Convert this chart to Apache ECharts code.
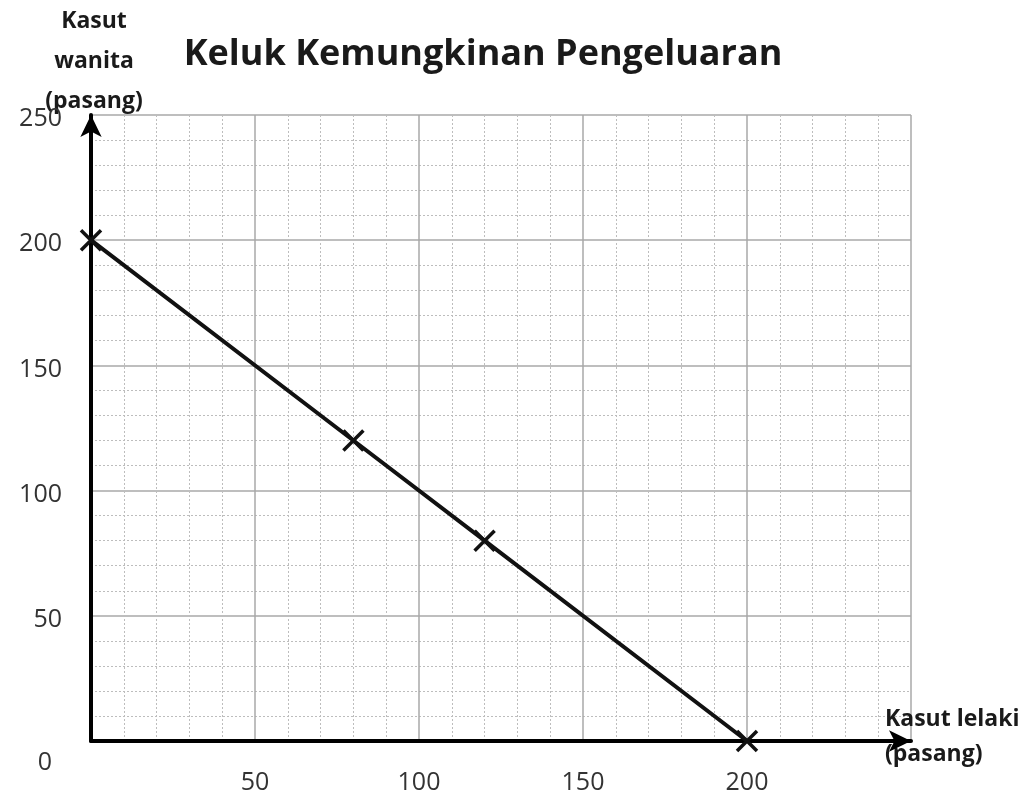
<!DOCTYPE html>
<html>
<head>
<meta charset="utf-8">
<script src="https://cdn.jsdelivr.net/npm/echarts@6/dist/echarts.min.js"></script>
<style>
  html, body { margin: 0; padding: 0; background: #fff; }
  #myChart { width: 1030px; height: 799px; }
</style>
</head>
<body>
<div id="myChart"></div>
<script>
// data
const kasutLelaki = [0, 80, 120, 200]
const kasutWanita = [200, 120, 80, 0]
const axisMax = 250
const majorStep = 50

const font = '"Open Sans", "Noto Sans", sans-serif'

const myChart = echarts.init(document.getElementById('myChart'))

const nameStyle = { fontFamily: font, fontSize: 23, fontWeight: 'bold', color: '#1a1a1a' }

const option = {
  animation: false,
  title: {
    text: 'Keluk Kemungkinan Pengeluaran',
    left: 478,
    top: 32,
    textAlign: 'center',
    textStyle: { fontFamily: font, fontSize: 36, fontWeight: 'bold', color: '#1a1a1a' }
  },
  grid: { left: 91, right: 119, top: 115, bottom: 58, outerBoundsMode: 'none', containLabel: false },
  xAxis: {
    type: 'value',
    min: 0,
    max: axisMax,
    interval: majorStep,
    // trailing small line lifts the two-line name a little
    name: '{n|Kasut lelaki}\n{n|(pasang)}\n{s| }',
    nameLocation: 'end',
    nameGap: -26,
    nameMoveOverlap: false,
    nameTextStyle: {
      ...nameStyle,
      align: 'left',
      rich: {
        n: { ...nameStyle, lineHeight: 35 },
        s: { fontSize: 1, lineHeight: 8 }
      }
    },
    axisLine: {
      show: true,
      symbol: ['none', 'arrow'],
      symbolSize: [16, 22],
      lineStyle: { color: '#000', width: 4 }
    },
    axisTick: { show: false },
    axisLabel: {
      margin: 29,
      fontFamily: font,
      fontSize: 25,
      color: '#333',
      formatter: (v) => (v === 0 || v === axisMax ? '' : String(v))
    },
    splitLine: { show: true, lineStyle: { color: '#a8a8a8', width: 1.5 } },
    minorTick: { show: false, splitNumber: 5 },
    minorSplitLine: { show: true, lineStyle: { color: '#bdbdbd', width: 1, type: [2, 2] } }
  },
  yAxis: {
    type: 'value',
    min: 0,
    max: axisMax,
    interval: majorStep,
    name: 'Kasut\nwanita\n(pasang)',
    nameLocation: 'end',
    nameGap: -6,
    nameMoveOverlap: false,
    nameTextStyle: {
      ...nameStyle,
      lineHeight: 40, align: 'center', padding: [0, 0, 0, 6]
    },
    axisLine: {
      show: true,
      symbol: ['none', 'arrow'],
      symbolSize: [16, 22],
      lineStyle: { color: '#000', width: 4 }
    },
    axisTick: { show: false },
    axisLabel: {
      margin: 29,
      fontFamily: font,
      fontSize: 25,
      color: '#333',
      padding: [8, 0, 0, 0],
      formatter: (v) => (v === 0 ? '{o|0}' : String(v)),
      rich: {
        o: { fontFamily: font, fontSize: 25, color: '#333', padding: [36, 10, 0, 0] }
      }
    },
    splitLine: { show: true, lineStyle: { color: '#a8a8a8', width: 1.5 } },
    minorTick: { show: false, splitNumber: 5 },
    minorSplitLine: { show: true, lineStyle: { color: '#bdbdbd', width: 1, type: [2, 2] } }
  },
  series: [{
    type: 'line',
    data: kasutLelaki.map((x, i) => [x, kasutWanita[i]]),
    clip: false,
    z: 5,
    lineStyle: { color: '#111', width: 4 },
    symbol: 'path://M0,0L10,10M10,0L0,10',
    symbolSize: 20,
    itemStyle: { color: 'transparent', borderColor: '#111', borderWidth: 3.5 }
  }]
}

myChart.setOption(option)
window.addEventListener('resize', () => {
  myChart.resize()
})
</script>
</body>
</html>
